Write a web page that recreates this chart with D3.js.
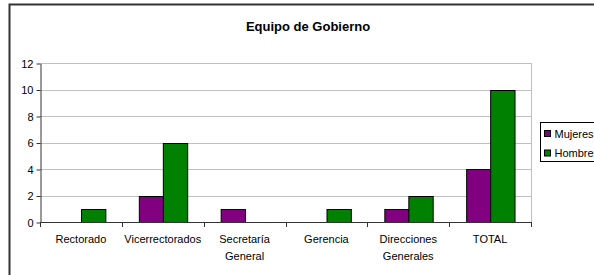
<!DOCTYPE html>
<html>
<head>
<meta charset="utf-8">
<script src="https://cdn.jsdelivr.net/npm/d3@7"></script>
<style>
  html, body { margin: 0; padding: 0; background: #fff; }
  svg { display: block; font-family: "Liberation Sans", Arial, sans-serif; }
</style>
</head>
<body>
<div id="chart"></div>
<script>
const categories = [["Rectorado"], ["Vicerrectorados"], ["Secretaría", "General"], ["Gerencia"], ["Direcciones", "Generales"], ["TOTAL"]];
const seriesNames = ["Mujeres", "Hombres"];
const mujeres = [0, 2, 1, 0, 1, 4];
const hombres = [1, 6, 0, 1, 2, 10];
const yTicks = [0, 2, 4, 6, 8, 10, 12];
const colors = ["#800080", "#008000"];

const W = 594, H = 275;
const plot = { left: 40, right: 531, top: 63, bottom: 222 };

const svg = d3.select('#chart').append('svg')
  .attr('width', W).attr('height', H);

// outer frame (runs off the right and bottom edges)
svg.append('rect')
  .attr('x', 9.5).attr('y', 4.5)
  .attr('width', 620).attr('height', 320)
  .attr('fill', '#fff')
  .attr('stroke', '#333').attr('stroke-width', 2);

svg.append('text')
  .attr('x', 308).attr('y', 31)
  .attr('text-anchor', 'middle')
  .style('font-size', '13px').style('font-weight', 'bold')
  .text('Equipo de Gobierno');

const keys = categories.map(c => c.join(' '));
const x0 = d3.scaleBand().domain(keys).range([plot.left, plot.right]).padding(0);
const x1 = d3.scaleBand().domain(seriesNames).range([0, x0.bandwidth()])
  .paddingInner(0).paddingOuter(0.68);
const y = d3.scaleLinear().domain([0, 12]).range([plot.bottom, plot.top]);

// gridlines
svg.append('g').selectAll('line')
  .data(yTicks.filter(d => d > 0))
  .join('line')
  .attr('x1', plot.left).attr('x2', plot.right)
  .attr('y1', d => Math.round(y(d)) + 0.5).attr('y2', d => Math.round(y(d)) + 0.5)
  .attr('stroke', '#c0c0c0');

// right border of plot area
svg.append('line')
  .attr('x1', plot.right + 0.5).attr('x2', plot.right + 0.5)
  .attr('y1', plot.top).attr('y2', plot.bottom)
  .attr('stroke', '#c0c0c0');

// bars
const rows = keys.map((k, i) => ({ key: k, values: [mujeres[i], hombres[i]] }));
const groups = svg.append('g').selectAll('g')
  .data(rows).join('g')
  .attr('transform', d => `translate(${x0(d.key)},0)`);
groups.selectAll('rect')
  .data(d => d.values.map((v, j) => ({ name: seriesNames[j], v, j })).filter(e => e.v > 0))
  .join('rect')
  .attr('x', d => Math.round(x1(d.name)) + 0.5)
  .attr('y', d => Math.round(y(d.v)) + 0.5)
  .attr('width', x1.bandwidth())
  .attr('height', d => Math.round(y(0)) - Math.round(y(d.v)))
  .attr('fill', d => colors[d.j])
  .attr('stroke', '#000').attr('stroke-width', 1);

// y axis
const yAxis = svg.append('g')
  .attr('transform', `translate(${plot.left + 0.5},0.5)`)
  .call(d3.axisLeft(y).tickValues(yTicks).tickSize(4).tickPadding(3).tickSizeOuter(0));
yAxis.select('.domain').attr('stroke', '#333');
yAxis.selectAll('.tick line').attr('stroke', '#333');
yAxis.selectAll('.tick text').style('font-size', '11px').attr('fill', '#000')
  .style('font-family', '"Liberation Sans", Arial, sans-serif');

// x axis with ticks at category boundaries
const bx = svg.append('g');
bx.append('line')
  .attr('x1', plot.left).attr('x2', plot.right + 1)
  .attr('y1', Math.round(y(0)) + 0.5).attr('y2', Math.round(y(0)) + 0.5)
  .attr('stroke', '#333');
bx.selectAll('line.tk')
  .data(keys.concat(['__end']))
  .join('line').attr('class', 'tk')
  .attr('x1', d => Math.round(d === '__end' ? plot.right : x0(d)) + 0.5)
  .attr('x2', d => Math.round(d === '__end' ? plot.right : x0(d)) + 0.5)
  .attr('y1', Math.round(y(0))).attr('y2', Math.round(y(0)) + 5)
  .attr('stroke', '#333');

const labels = svg.append('g').selectAll('text')
  .data(categories).join('text')
  .attr('x', (d, i) => x0(keys[i]) + x0.bandwidth() / 2)
  .attr('y', 243)
  .attr('text-anchor', 'middle')
  .style('font-size', '11px');
labels.selectAll('tspan')
  .data(d => d).join('tspan')
  .attr('x', function () { return d3.select(this.parentNode).attr('x'); })
  .attr('dy', (d, i) => i === 0 ? 0 : 17)
  .text(d => d);

// legend (clipped by the window on the right)
const lg = svg.append('g').attr('transform', 'translate(540.5,122.5)');
lg.append('rect').attr('width', 80).attr('height', 39)
  .attr('fill', '#fff').attr('stroke', '#000');
const items = lg.selectAll('g.item').data(seriesNames).join('g')
  .attr('class', 'item')
  .attr('transform', (d, i) => `translate(4,${8 + i * 19.5})`);
items.append('rect').attr('width', 6).attr('height', 6)
  .attr('fill', (d, i) => colors[i]).attr('stroke', '#000');
items.append('text').attr('x', 10).attr('y', 7)
  .style('font-size', '11px').text(d => d);
</script>
</body>
</html>
